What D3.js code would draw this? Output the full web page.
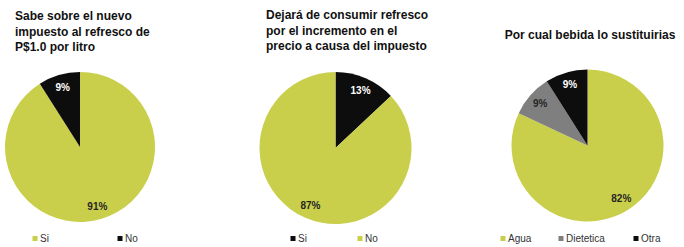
<!DOCTYPE html>
<html>
<head>
<meta charset="utf-8">
<script src="https://cdn.jsdelivr.net/npm/d3@7"></script>
<style>
  html, body { margin: 0; padding: 0; background: #fff; }
  svg { display: block; font-family: "Liberation Sans", Arial, sans-serif; }
</style>
</head>
<body>
<svg id="chart" width="684" height="247"></svg>
<script>
// data
var titles1 = ["Sabe sobre el nuevo", "impuesto al refresco de", "P$1.0 por litro"];
var cats1 = ["Si", "No"];
var vals1 = [91, 9];

var titles2 = ["Dejará de consumir refresco", "por el incremento en el", "precio a causa del impuesto"];
var cats2 = ["Si", "No"];
var vals2 = [13, 87];

var titles3 = ["Por cual bebida lo sustituirias"];
var cats3 = ["Agua", "Dietetica", "Otra"];
var vals3 = [82, 9, 9];

var YEL = "#c9cf4a", BLK = "#0d0d0d", GRY = "#7f7f7f";

// layout for each panel
var panels = [
  { titles: titles1, cats: cats1, vals: vals1, colors: [YEL, BLK],
    cx: 80, cy: 147, r: 75, tx: 15, ty: 20, anchor: "start",
    legX: [35, 120] },
  { titles: titles2, cats: cats2, vals: vals2, colors: [BLK, YEL],
    cx: 335.5, cy: 148, r: 76, tx: 266, ty: 19, anchor: "start",
    legX: [293, 360] },
  { titles: titles3, cats: cats3, vals: vals3, colors: [YEL, GRY, BLK],
    cx: 587.5, cy: 145.5, r: 76, tx: 590, ty: 39, anchor: "middle",
    legX: [503, 561, 636] }
];

var svg = d3.select("#chart");

var pie = d3.pie().sort(null).value(function (d) { return d; });

panels.forEach(function (p) {
  var g = svg.append("g");

  // title
  var t = g.append("text")
    .attr("x", p.tx)
    .attr("y", p.ty)
    .attr("text-anchor", p.anchor)
    .attr("font-size", "12px")
    .attr("font-weight", "bold")
    .attr("fill", "#111");
  p.titles.forEach(function (line, i) {
    t.append("tspan")
      .attr("x", p.tx)
      .attr("dy", i == 0 ? 0 : 15.5)
      .text(line);
  });

  var arc = d3.arc().innerRadius(0).outerRadius(p.r);
  var labelArc = d3.arc().innerRadius(p.r * 0.83).outerRadius(p.r * 0.83);

  var pg = g.append("g")
    .attr("transform", "translate(" + p.cx + "," + p.cy + ")");

  var arcs = pie(p.vals);

  pg.selectAll("path")
    .data(arcs)
    .enter()
    .append("path")
    .attr("d", arc)
    .attr("fill", function (d, i) { return p.colors[i]; });

  pg.selectAll("text")
    .data(arcs)
    .enter()
    .append("text")
    .attr("transform", function (d) {
      return "translate(" + labelArc.centroid(d) + ")";
    })
    .attr("text-anchor", "middle")
    .attr("dy", "0.35em")
    .attr("font-size", "10px")
    .attr("font-weight", "bold")
    .attr("fill", function (d, i) {
      return p.colors[i] == BLK ? "#fff" : "#262626";
    })
    .text(function (d) { return d.data + "%"; });

  // legend
  var leg = g.selectAll(".leg")
    .data(p.cats)
    .enter()
    .append("g")
    .attr("transform", function (d, i) {
      return "translate(" + p.legX[i] + ",238.5)";
    });
  leg.append("rect")
    .attr("x", -2.5).attr("y", -2.5)
    .attr("width", 5).attr("height", 5)
    .attr("fill", function (d, i) { return p.colors[i]; });
  leg.append("text")
    .attr("x", 5)
    .attr("y", 3.5)
    .attr("font-size", "10px")
    .attr("fill", "#333")
    .text(function (d) { return d; });
});
</script>
</body>
</html>
